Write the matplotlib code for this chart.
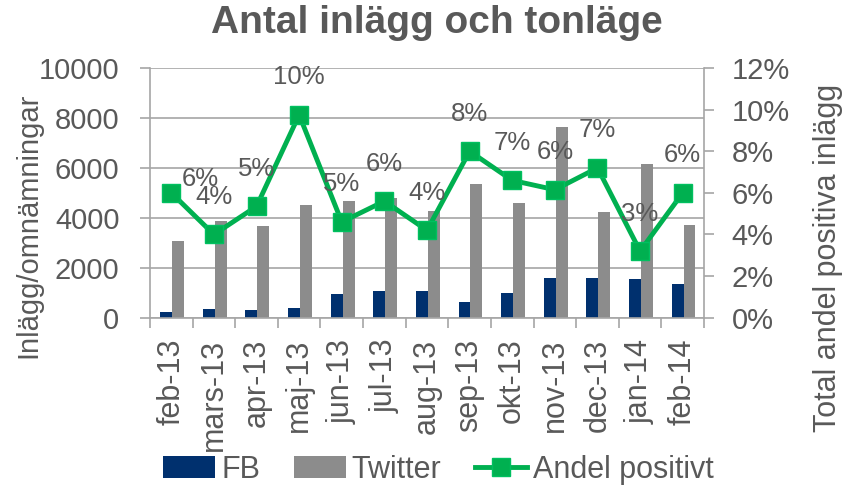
import matplotlib
matplotlib.use("Agg")
import matplotlib.pyplot as plt
import numpy as np

plt.rcParams['font.family'] = ['Liberation Sans', 'DejaVu Sans']

# data
months = ["feb-13", "mars-13", "apr-13", "maj-13", "jun-13", "jul-13", "aug-13",
          "sep-13", "okt-13", "nov-13", "dec-13", "jan-14", "feb-14"]
fb = [220, 340, 300, 380, 950, 1070, 1070, 640, 990, 1580, 1580, 1540, 1340]
twitter = [3080, 3880, 3680, 4520, 4660, 4800, 4290, 5370, 4590, 7650, 4220, 6140, 3720]
andel = [6.0, 4.0, 5.35, 9.75, 4.6, 5.6, 4.2, 8.0, 6.6, 6.15, 7.2, 3.2, 6.0]
labels = ["6%", "4%", "5%", "10%", "5%", "6%", "4%", "8%", "7%", "6%", "7%", "3%", "6%"]

txt = "#595959"
grid = "#A6A6A6"

fig = plt.figure(figsize=(8.65, 4.93), dpi=100)
ax = fig.add_axes([0.1734, 0.3556, 0.6405, 0.5064])
x = np.arange(len(months))

ax.bar(x - 0.12, fb, width=0.28, color="#00306E", zorder=2, label="FB")
ax.bar(x + 0.16, twitter, width=0.28, color="#8C8C8C", zorder=2, label="Twitter")

ax.set_xlim(-0.5, len(months) - 0.5)
ax.set_ylim(0, 10000)
ax.set_yticks(range(0, 10001, 2000))
ax.yaxis.grid(True, color=grid, lw=1.2, zorder=0)
ax.set_xticks(x)
ax.set_xticklabels(months, rotation=90, fontsize=22, color=txt)
ax.set_xticks(np.arange(-0.5, len(months)), minor=True)
ax.tick_params(axis="x", which="major", length=0, pad=15)
ax.tick_params(axis="x", which="minor", length=7, color=grid, width=1.2)
ax.tick_params(axis="y", labelsize=21, labelcolor=txt, color=grid, length=7, width=1.2, pad=15)
for s in ["top", "right"]:
    ax.spines[s].set_visible(False)
ax.spines["left"].set_color(grid)
ax.spines["bottom"].set_color(grid)
ax.spines["left"].set_linewidth(1.2)
ax.spines["bottom"].set_linewidth(1.2)

ax2 = ax.twinx()
ax2.plot(x, andel, color="#00B050", lw=3.5, marker="s", markersize=13,
         markeredgecolor="#00C060", zorder=5, label="Andel positivt")
ax2.set_ylim(0, 12)
ax2.set_yticks(range(0, 13, 2))
ax2.set_yticklabels([f"{v}%" for v in range(0, 13, 2)])
ax2.tick_params(axis="y", labelsize=21, labelcolor=txt, color=grid, length=7, width=1.2, pad=13)
for s in ["top", "left", "bottom"]:
    ax2.spines[s].set_visible(False)
ax2.spines["right"].set_color(grid)
ax2.spines["right"].set_linewidth(1.2)

fig.text(28 / 865, 1 - 225 / 493, "Inlägg/omnämningar", rotation=90,
         ha="center", va="center", fontsize=21, color=txt)
fig.text(828 / 865, 1 - 258 / 493, "Total andel positiva inlägg", rotation=90,
         ha="center", va="center", fontsize=22, color=txt)

for i, (v, lab) in enumerate(zip(andel, labels)):
    off = (21, 10) if i == 0 else (0, 27)
    ax2.annotate(lab, (i, v), xytext=off, textcoords="offset points",
                 ha="center", va="center", fontsize=18.5, color=txt, zorder=6)

fig.suptitle("Antal inlägg och tonläge", x=0.505, y=0.99, fontsize=28,
             fontweight="bold", color=txt)

h1, l1 = ax.get_legend_handles_labels()
h2, l2 = ax2.get_legend_handles_labels()
leg = fig.legend(h1 + h2, l1 + l2, loc="center", bbox_to_anchor=(0.507, 0.047),
                 ncol=3, frameon=False, fontsize=22, handlelength=1.7,
                 handletextpad=0.2, columnspacing=1.1, borderpad=0)
for t in leg.get_texts():
    t.set_color(txt)

fig.savefig("out.png", dpi=100)
